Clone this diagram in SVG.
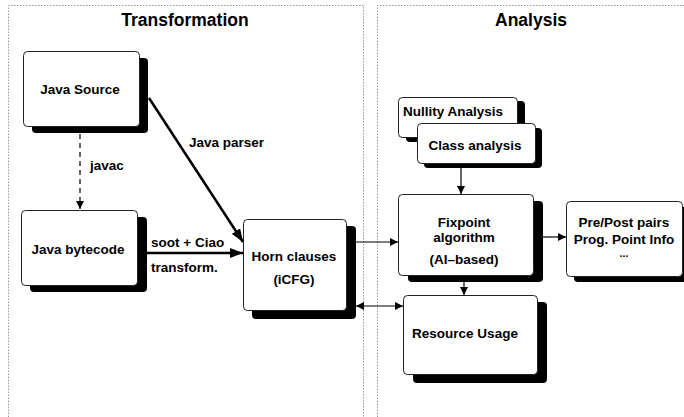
<svg xmlns="http://www.w3.org/2000/svg" width="684" height="417" viewBox="0 0 684 417">
<style>
text{font-family:"Liberation Sans",Arial,sans-serif;font-weight:bold;fill:#000}
.t{font-size:13.5px}
.title{font-size:17.5px}
.box{fill:#fff;stroke:#222;stroke-width:1}
.sh{fill:#000}
.panel{fill:none;stroke:#999;stroke-width:1;stroke-dasharray:1.5,1.5}
.thin{stroke:#000;stroke-width:1.2;fill:none}
.thick{stroke:#000;stroke-width:2.5;fill:none}
</style>
<defs>
<marker id="ah" markerUnits="userSpaceOnUse" markerWidth="10" markerHeight="8" refX="8" refY="4" orient="auto"><path d="M0,0 L8,4 L0,8 z" fill="#000"/></marker>
<marker id="ahs" markerUnits="userSpaceOnUse" markerWidth="10" markerHeight="8" refX="0" refY="4" orient="auto"><path d="M8,0 L0,4 L8,8 z" fill="#000"/></marker>
<marker id="ahb" markerUnits="userSpaceOnUse" markerWidth="14" markerHeight="10" refX="13" refY="5" orient="auto"><path d="M0,0 L13,5 L0,10 z" fill="#000"/></marker>
</defs>
<g id="panels">
<path class="panel" d="M8.5,417 L8.5,5.5 L363.5,5.5 L363.5,417"/>
<path class="panel" d="M377.5,417 L377.5,5.5 L684,5.5"/>
<text class="title" x="185" y="26" text-anchor="middle">Transformation</text>
<text class="title" x="531" y="26" text-anchor="middle">Analysis</text>
</g>
<g id="connectors">
<line class="thin" x1="80" y1="134" x2="80" y2="209" stroke-dasharray="5,4" stroke-width="1.5" marker-end="url(#ah)"/>
<line class="thick" x1="149" y1="98" x2="243" y2="242" marker-end="url(#ahb)"/>
<line class="thick" x1="147" y1="253" x2="243" y2="253" marker-end="url(#ahb)"/>
<line class="thin" x1="356" y1="242" x2="398" y2="242" marker-end="url(#ah)"/>
<line class="thin" x1="356" y1="306" x2="403" y2="306" marker-start="url(#ahs)" marker-end="url(#ah)"/>
<line class="thin" x1="461" y1="168" x2="461" y2="194" marker-end="url(#ah)"/>
<line class="thin" x1="464" y1="276" x2="464" y2="295" marker-end="url(#ah)"/>
<line class="thin" x1="543" y1="237" x2="566" y2="237" marker-end="url(#ah)"/>
<text class="t" x="90" y="170">javac</text>
<text class="t" x="189" y="147">Java parser</text>
<text class="t" x="151" y="247">soot + Ciao</text>
<text class="t" x="151" y="272">transform.</text>
</g>
<g id="java-source">
<rect class="sh" x="32" y="58" width="116" height="75" rx="4"/>
<rect class="box" x="23.5" y="51.5" width="116" height="75" rx="4"/>
<text class="t" x="80" y="94" text-anchor="middle">Java Source</text>
</g>
<g id="java-bytecode">
<rect class="sh" x="30" y="217" width="117" height="75" rx="4"/>
<rect class="box" x="21.5" y="210.5" width="116" height="75" rx="4"/>
<text class="t" x="78" y="254" text-anchor="middle">Java bytecode</text>
</g>
<g id="horn-clauses">
<rect class="sh" x="252" y="226" width="104" height="93" rx="4"/>
<rect class="box" x="243.5" y="219.5" width="103" height="91" rx="4"/>
<text class="t" x="294" y="261" text-anchor="middle">Horn clauses</text>
<text class="t" x="294" y="284" text-anchor="middle">(iCFG)</text>
</g>
<g id="nullity-analysis">
<rect class="sh" x="406" y="101" width="119" height="41" rx="4"/>
<rect class="box" x="398.5" y="97.5" width="119" height="40" rx="4"/>
<text class="t" x="403" y="116">Nullity Analysis</text>
</g>
<g id="class-analysis">
<rect class="sh" x="424" y="128" width="118" height="40" rx="4"/>
<rect class="box" x="417.5" y="123.5" width="118" height="40" rx="4"/>
<text class="t" x="475" y="150" text-anchor="middle">Class analysis</text>
</g>
<g id="fixpoint">
<rect class="sh" x="408" y="201" width="135" height="81" rx="4"/>
<rect class="box" x="398.5" y="194.5" width="135" height="81" rx="4"/>
<text class="t" x="464" y="227" text-anchor="middle">Fixpoint</text>
<text class="t" x="464" y="242" text-anchor="middle">algorithm</text>
<text class="t" x="464" y="264" text-anchor="middle">(AI–based)</text>
</g>
<g id="resource-usage">
<rect class="sh" x="413" y="302" width="134" height="81" rx="4"/>
<rect class="box" x="403.5" y="295.5" width="134" height="79" rx="4"/>
<text class="t" x="465" y="338" text-anchor="middle">Resource Usage</text>
</g>
<g id="pre-post">
<rect class="sh" x="574" y="207" width="115" height="75" rx="4"/>
<rect class="box" x="566.5" y="201.5" width="116" height="75" rx="4"/>
<text class="t" x="624" y="227" text-anchor="middle">Pre/Post pairs</text>
<text class="t" x="624" y="244" text-anchor="middle">Prog. Point Info</text>
<text x="624" y="257" text-anchor="middle" font-size="10.5px">...</text>
</g>
</svg>
